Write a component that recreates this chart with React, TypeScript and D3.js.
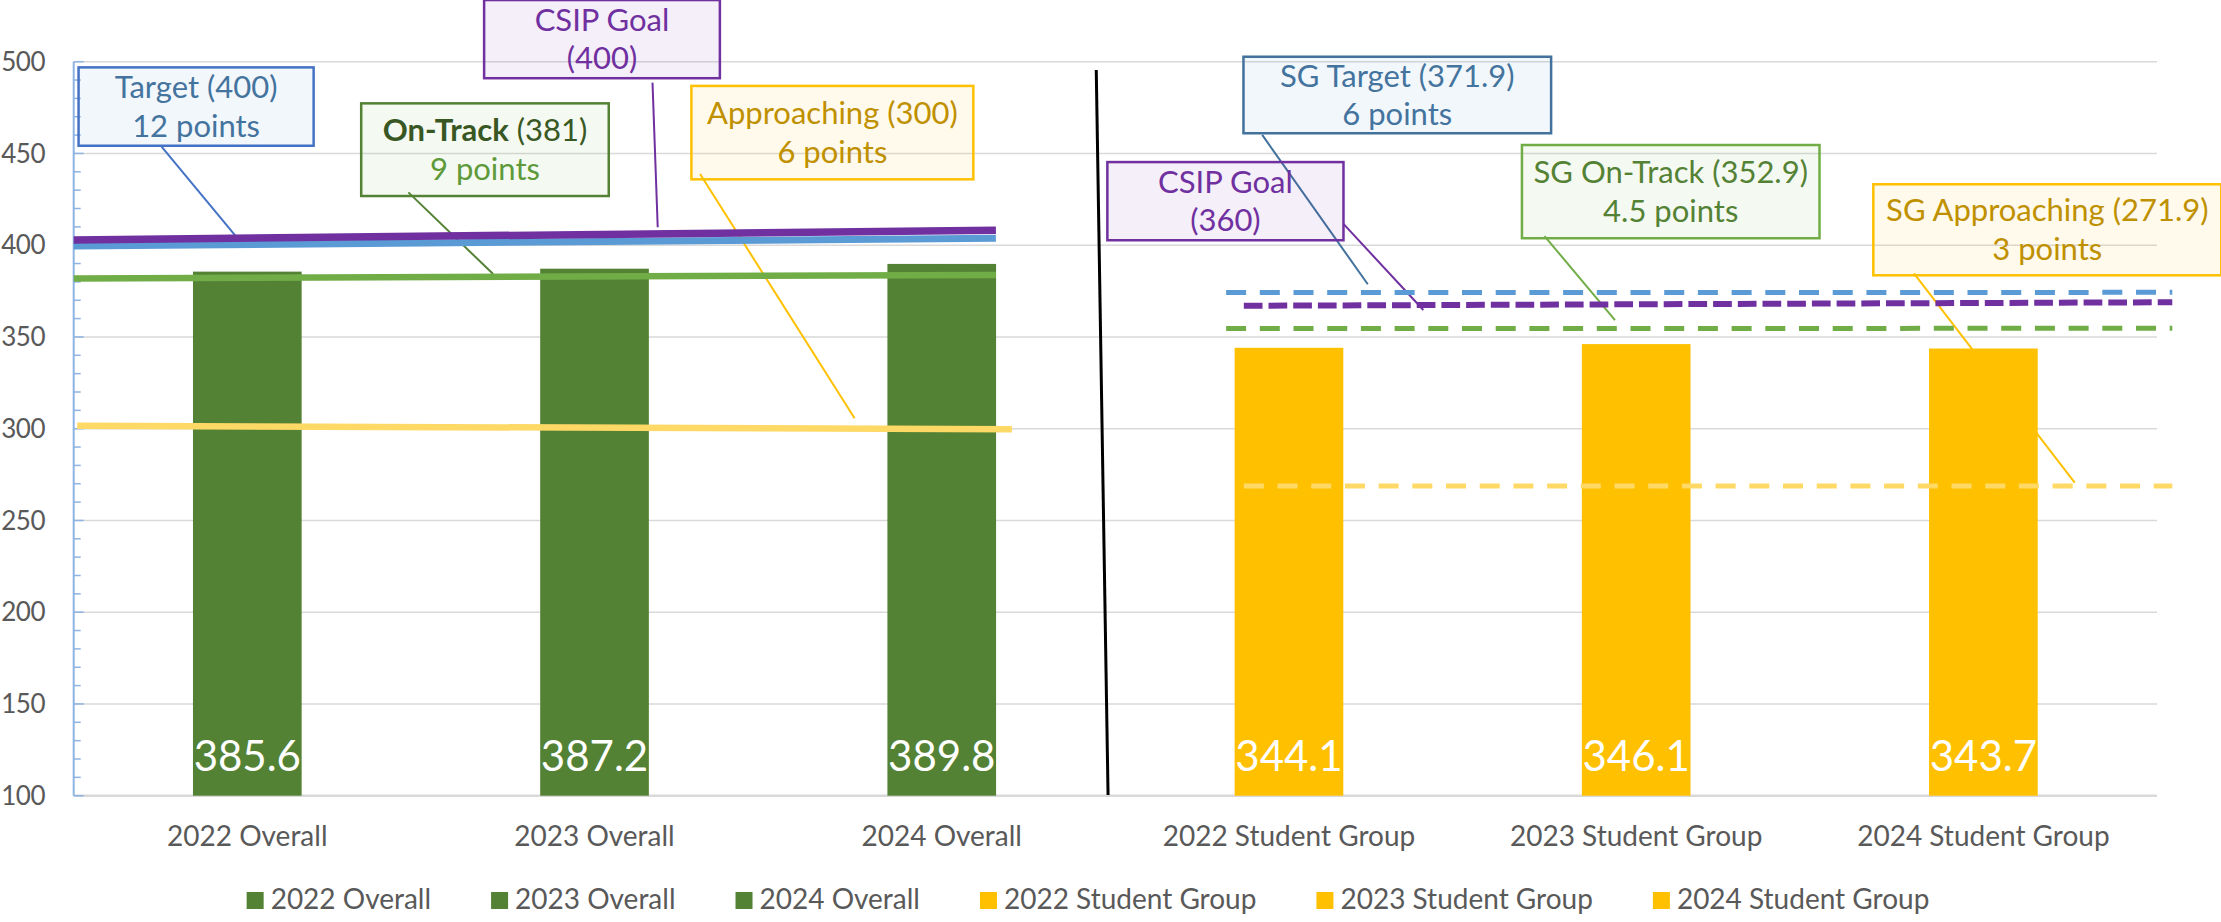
import React, { useEffect, useRef } from "react";
import * as d3 from "d3";

// ---------- data ----------
const categories = [
  "2022 Overall",
  "2023 Overall",
  "2024 Overall",
  "2022 Student Group",
  "2023 Student Group",
  "2024 Student Group",
];
const scores = [385.6, 387.2, 389.8, 344.1, 346.1, 343.7];
const groups = ["overall", "overall", "overall", "sg", "sg", "sg"];
const yTicks = [100, 150, 200, 250, 300, 350, 400, 450, 500];

// threshold lines (slot units along the category axis, score units vertically)
const lineNames = ["Target", "CSIP Goal", "On-Track", "Approaching", "SG Target", "SG CSIP Goal", "SG On-Track", "SG Approaching"];
const lineStartSlot = [0, 0, 0, 0.01, 3.319, 3.37, 3.319, 3.37];
const lineEndSlot = [2.656, 2.656, 2.656, 2.702, 6.044, 6.044, 6.044, 6.044];
const lineStartValue = [399.6, 402.8, 381.9, 301.6, 374.2, 367.0, 354.6, 268.8];
const lineEndValue = [403.8, 408.2, 383.8, 299.7, 374.3, 368.9, 354.7, 268.8];

// callouts
const calloutBold = ["", "", "On-Track", "", "", "", "", ""];
const calloutLine1 = ["Target (400)", "CSIP Goal", " (381)", "Approaching (300)", "SG Target (371.9)", "CSIP Goal", "SG On-Track (352.9)", "SG Approaching (271.9)"];
const calloutLine2 = ["12 points", "(400)", "9 points", "6 points", "6 points", "(360)", "4.5 points", "3 points"];
const calloutX0 = [0.014, 1.182, 0.828, 1.779, 3.369, 2.977, 4.171, 5.183];
const calloutX1 = [0.691, 1.861, 1.541, 2.591, 4.255, 3.657, 5.028, 6.185];
const calloutTop = [496.9, 533.6, 477.3, 486.8, 502.7, 445.3, 454.6, 433.2];
const calloutBottom = [454.2, 491.0, 426.8, 435.9, 461.0, 402.7, 403.8, 383.6];
const leaderFromSlot = [0.253, 1.667, 0.964, 1.804, 3.423, 3.657, 4.236, 5.3];
const leaderFromValue = [453.7, 488.6, 428.8, 438.8, 460.1, 411.6, 405.0, 384.7];
const leaderToSlot = [0.484, 1.682, 1.208, 2.249, 3.727, 3.887, 4.439, 5.763];
const leaderToValue = [401.0, 409.8, 384.3, 305.7, 378.7, 364.7, 359.2, 270.6];

// divider between sections
const dividerSlot = [2.945, 2.979];
const dividerValue = [495.5, 100.4];

// ---------- styles ----------
const groupColor: Record<string, string> = { overall: "#548235", sg: "#FFC000" };
const lineColor = ["#5B9BD5", "#7030A0", "#70AD47", "#FFD966", "#5B9BD5", "#7030A0", "#70AD47", "#FFD966"];
const lineWidth = [7, 7.5, 6.5, 6.5, 5, 6, 5, 5];
const lineDash = [null, null, null, null, "20 13.7", "18.7 6", "20 13.7", "20 13.7"];
const boxStroke = ["#4472C4", "#7030A0", "#548235", "#FFC000", "#41719C", "#7030A0", "#70AD47", "#FFC000"];
const boxFill = ["#5B9BD5", "#7030A0", "#70AD47", "#FFC000", "#5B9BD5", "#7030A0", "#70AD47", "#FFC000"];
const text1Color = ["#44749E", "#7030A0", "#385723", "#BF9000", "#44749E", "#7030A0", "#548235", "#BF9000"];
const text2Color = ["#44749E", "#7030A0", "#5E9A3A", "#BF9000", "#44749E", "#7030A0", "#548235", "#BF9000"];
const leaderColor = ["#4472C4", "#7030A0", "#548235", "#FFC000", "#41719C", "#7030A0", "#70AD47", "#FFC000"];

const FONT = "Lato, 'Open Sans', sans-serif";

export default function App() {
  const ref = useRef<SVGSVGElement>(null);

  useEffect(() => {
    document.body.style.margin = "0";
    const svg = d3.select(ref.current!);
    svg.selectAll("*").remove();

    const plotLeft = 73.7,
      plotRight = 2157,
      plotTop = 61.7,
      plotBottom = 795.7;

    const x = d3
      .scaleBand<string>()
      .domain(categories)
      .range([plotLeft, plotRight])
      .paddingInner(0.687)
      .paddingOuter(0.3435);
    const xs = d3.scaleLinear().domain([0, categories.length]).range([plotLeft, plotRight]);
    const y = d3.scaleLinear().domain([100, 500]).range([plotBottom, plotTop]);

    // gridlines
    svg
      .append("g")
      .selectAll("line")
      .data(yTicks.filter((t) => t > 100))
      .join("line")
      .attr("x1", plotLeft)
      .attr("x2", plotRight)
      .attr("y1", (d) => y(d))
      .attr("y2", (d) => y(d))
      .attr("stroke", "#D9D9D9")
      .attr("stroke-width", 1.6);

    // bottom axis
    svg
      .append("line")
      .attr("x1", plotLeft)
      .attr("x2", plotRight)
      .attr("y1", y(100))
      .attr("y2", y(100))
      .attr("stroke", "#D9D9D9")
      .attr("stroke-width", 2.5);

    // y axis with minor ticks
    const ya = svg.append("g");
    ya.append("line")
      .attr("x1", plotLeft)
      .attr("x2", plotLeft)
      .attr("y1", y(500))
      .attr("y2", y(100))
      .attr("stroke", "#8DB4E2")
      .attr("stroke-width", 2);
    ya.selectAll("line.minor")
      .data(d3.range(100, 501, 10))
      .join("line")
      .attr("class", "minor")
      .attr("x1", plotLeft)
      .attr("x2", (d) => plotLeft + (d % 50 === 0 ? 10 : 7))
      .attr("y1", (d) => y(d))
      .attr("y2", (d) => y(d))
      .attr("stroke", "#8DB4E2")
      .attr("stroke-width", 1.5);
    ya.selectAll("text")
      .data(yTicks)
      .join("text")
      .attr("x", 45)
      .attr("y", (d) => y(d))
      .attr("dy", "0.35em")
      .attr("text-anchor", "end")
      .attr("font-family", FONT)
      .attr("font-size", 26)
      .attr("letter-spacing", -0.5)
      .attr("fill", "#595959")
      .text((d) => String(d));

    // leader lines
    svg
      .append("g")
      .selectAll("line")
      .data(lineNames.map((_, i) => i))
      .join("line")
      .attr("x1", (i) => xs(leaderFromSlot[i]))
      .attr("y1", (i) => y(leaderFromValue[i]))
      .attr("x2", (i) => xs(leaderToSlot[i]))
      .attr("y2", (i) => y(leaderToValue[i]))
      .attr("stroke", (i) => leaderColor[i])
      .attr("stroke-width", 2);

    // bars
    svg
      .append("g")
      .selectAll("rect")
      .data(categories.map((c, i) => ({ c, v: scores[i], g: groups[i] })))
      .join("rect")
      .attr("x", (d) => x(d.c)!)
      .attr("width", x.bandwidth())
      .attr("y", (d) => y(d.v))
      .attr("height", (d) => y(100) - y(d.v))
      .attr("fill", (d) => groupColor[d.g]);

    // data labels
    svg
      .append("g")
      .selectAll("text")
      .data(categories.map((c, i) => ({ c, v: scores[i] })))
      .join("text")
      .attr("x", (d) => x(d.c)! + x.bandwidth() / 2)
      .attr("y", 771)
      .attr("text-anchor", "middle")
      .attr("font-family", FONT)
      .attr("font-size", 42)
      .attr("fill", "#FFFFFF")
      .text((d) => d.v.toFixed(1));

    // threshold lines
    svg
      .append("g")
      .selectAll("line")
      .data(lineNames.map((_, i) => i))
      .join("line")
      .attr("x1", (i) => xs(lineStartSlot[i]))
      .attr("x2", (i) => xs(lineEndSlot[i]))
      .attr("y1", (i) => y(lineStartValue[i]))
      .attr("y2", (i) => y(lineEndValue[i]))
      .attr("stroke", (i) => lineColor[i])
      .attr("stroke-width", (i) => lineWidth[i])
      .attr("stroke-dasharray", (i) => lineDash[i] ?? null);

    // divider
    svg
      .append("line")
      .attr("x1", xs(dividerSlot[0]))
      .attr("x2", xs(dividerSlot[1]))
      .attr("y1", y(dividerValue[0]))
      .attr("y2", y(dividerValue[1]))
      .attr("stroke", "#000")
      .attr("stroke-width", 3);

    // callouts
    const cg = svg.append("g");
    lineNames.forEach((_, i) => {
      const bx0 = xs(calloutX0[i]);
      const bx1 = xs(calloutX1[i]);
      const by0 = y(calloutTop[i]);
      const by1 = y(calloutBottom[i]);
      const g = cg.append("g");
      g.append("rect")
        .attr("x", bx0)
        .attr("y", by0)
        .attr("width", bx1 - bx0)
        .attr("height", by1 - by0)
        .attr("fill", boxFill[i])
        .attr("fill-opacity", 0.08)
        .attr("stroke", boxStroke[i])
        .attr("stroke-width", 2.5);
      const cx = (bx0 + bx1) / 2;
      const cy = (by0 + by1) / 2;
      const t1 = g
        .append("text")
        .attr("x", cx)
        .attr("y", cy - 8.5)
        .attr("text-anchor", "middle")
        .attr("font-family", FONT)
        .attr("font-size", 31)
        .attr("fill", text1Color[i]);
      if (calloutBold[i]) {
        t1.append("tspan").attr("font-weight", 700).text(calloutBold[i]);
      }
      t1.append("tspan").text(calloutLine1[i]);
      g.append("text")
        .attr("x", cx)
        .attr("y", cy + 30)
        .attr("text-anchor", "middle")
        .attr("font-family", FONT)
        .attr("font-size", 31)
        .attr("fill", text2Color[i])
        .text(calloutLine2[i]);
    });

    // category labels
    svg
      .append("g")
      .selectAll("text")
      .data(categories)
      .join("text")
      .attr("x", (d) => x(d)! + x.bandwidth() / 2)
      .attr("y", 846)
      .attr("text-anchor", "middle")
      .attr("font-family", FONT)
      .attr("font-size", 28)
      .attr("fill", "#595959")
      .text((d) => d);

    // legend
    const lg = svg.append("g");
    const items = categories.map((c, i) => {
      const it = lg.append("g");
      it.append("rect").attr("x", 0).attr("y", 892).attr("width", 17).attr("height", 17).attr("fill", groupColor[groups[i]]);
      const t = it
        .append("text")
        .attr("x", 24)
        .attr("y", 909)
        .attr("font-family", FONT)
        .attr("font-size", 28)
        .attr("fill", "#595959")
        .text(c);
      const w = (t.node() as SVGTextElement).getComputedTextLength();
      return { it, w: 24 + w };
    });
    const gap = 60;
    const total = items.reduce((s, d) => s + d.w, 0) + gap * (items.length - 1);
    let cur = 1088 - total / 2;
    items.forEach((d) => {
      d.it.attr("transform", `translate(${cur},0)`);
      cur += d.w + gap;
    });
  }, []);

  return (
    <svg
      ref={ref}
      width={2221}
      height={922}
      style={{ position: "absolute", left: 0, top: 0, display: "block", background: "#fff" }}
    />
  );
}
